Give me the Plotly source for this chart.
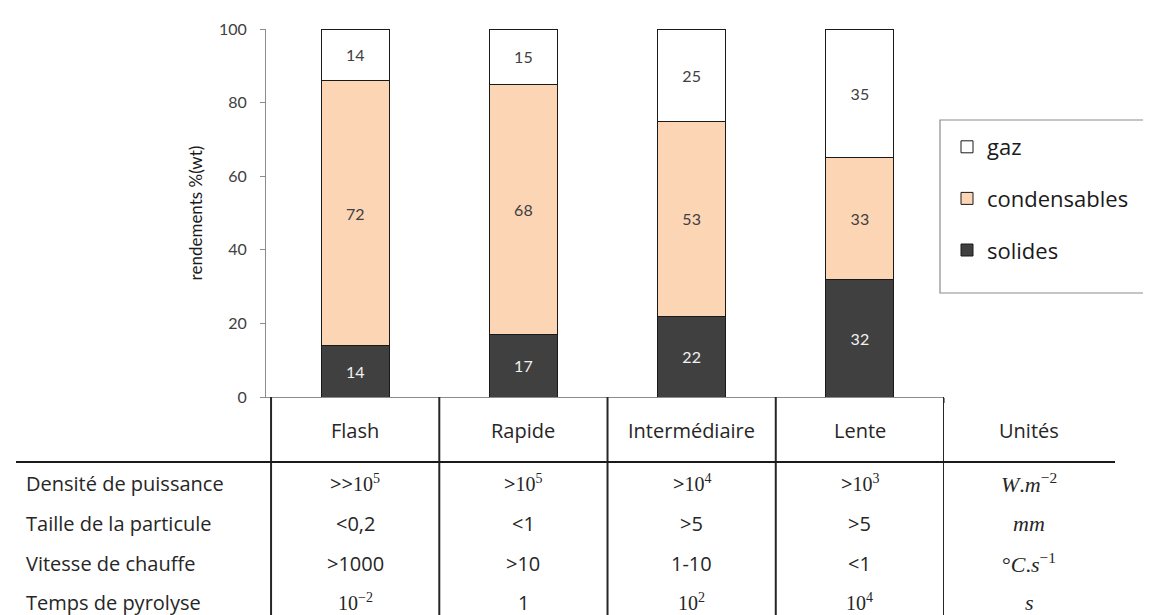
import plotly.graph_objects as go

categories = ["Flash", "Rapide", "Intermédiaire", "Lente"]
solides = [14, 17, 22, 32]
condensables = [72, 68, 53, 33]
gaz = [14, 15, 25, 35]

row_labels = ["Densité de puissance", "Taille de la particule",
              "Vitesse de chauffe", "Temps de pyrolyse"]
SERIF = "Liberation Serif"
def num(s):
    return f"<span style='font-family:{SERIF}'>{s}</span>"
densite = [">>" + num("10<sup>5</sup>"), ">" + num("10<sup>5</sup>"),
           ">" + num("10<sup>4</sup>"), ">" + num("10<sup>3</sup>")]
taille = ["<0,2", "<1", ">5", ">5"]
vitesse = [">1000", ">10", "1-10", "<1"]
temps = [num("10<sup>−2</sup>"), "1", num("10<sup>2</sup>"), num("10<sup>4</sup>")]
table_rows = [densite, taille, vitesse, temps]
units_header = "Unités"
units = ["<i>W</i>.<i>m</i><sup>−2</sup>", "<i>mm</i>",
         "°<i>C</i>.<i>s</i><sup>−1</sup>", "<i>s</i>"]

W, H = 1151, 615
L, R, T, B = 258, 936, 21, 389   # plot area in pixels
FONT = "Lato"
TFONT = "Open Sans"
TXT = "#262626"

def px(x):
    return (x - L) / (R - L)

def py(y):
    return (B - y) / (B - T)

fig = go.Figure()
series = [("solides", solides, "#404040", "#f2f2f2", 3),
          ("condensables", condensables, "#FCD5B5", "#404040", 2),
          ("gaz", gaz, "#FFFFFF", "#404040", 1)]
for name, vals, col, tcol, rank in series:
    fig.add_trace(go.Bar(
        x=categories, y=vals, name=name, legendgroup=name, legendrank=rank,
        marker=dict(color=col, line=dict(color="#1a1a1a", width=1)),
        width=0.405,
        texttemplate="%{y}", textposition="inside", insidetextanchor="middle",
        textangle=0, constraintext="none",
        textfont=dict(family=FONT, size=16, color=tcol),
        hoverinfo="skip",
    ))

fig.update_layout(
    width=W, height=H,
    margin=dict(l=L, r=W - R, t=T, b=H - B, autoexpand=False),
    paper_bgcolor="white", plot_bgcolor="white",
    barmode="stack", bargap=0.6,
    font=dict(family=FONT, color=TXT),
    showlegend=True,
    legend=dict(
        x=px(939), y=py(118), xanchor="left", yanchor="top",
        xref="paper", yref="paper",
        font=dict(family=TFONT, size=22, color="#1a1a1a"),
        traceorder="grouped", tracegroupgap=20,
        bgcolor="rgba(0,0,0,0)", borderwidth=0,
        itemclick=False, itemdoubleclick=False,
    ),
    xaxis=dict(
        range=[-0.53, 3.5], showline=True, linecolor="#8c8c8c", linewidth=1,
        ticks="outside", tickson="boundaries", ticklen=5, tickcolor="#8c8c8c",
        showticklabels=False, showgrid=False, zeroline=False, fixedrange=True,
    ),
    yaxis=dict(
        range=[0, 100], tick0=0, dtick=20, showline=True, linecolor="#8c8c8c",
        linewidth=1, ticks="outside", ticklen=5, tickcolor="#8c8c8c",
        ticklabelstandoff=10,
        tickfont=dict(family=FONT, size=16, color="#404040"),
        showgrid=False, zeroline=False, fixedrange=True,
        title=dict(text="rendements %(wt)", standoff=12,
                   font=dict(family=FONT, size=17, color="#1a1a1a")),
    ),
)

shapes = []
# legend frame
shapes.append(dict(type="rect", xref="paper", yref="paper",
                   x0=px(932), x1=px(1165), y0=py(285), y1=py(112),
                   line=dict(color="#8c8c8c", width=1.2), fillcolor="rgba(0,0,0,0)"))
# table vertical lines at category boundaries
for k in range(len(categories) + 1):
    shapes.append(dict(type="line", xref="x", yref="paper",
                       x0=k - 0.5, x1=k - 0.5, y0=py(H + 2), y1=py(B),
                       line=dict(color="#262626", width=2)))
# header separator
shapes.append(dict(type="line", xref="paper", yref="paper",
                   x0=px(8), x1=px(1107), y0=py(454), y1=py(454),
                   line=dict(color="#1a1a1a", width=2)))
fig.update_layout(shapes=shapes)

ann = []
TF = 20
header_y = 422
row_y = [475, 515, 555, 594]
units_x = 1021
for i, c in enumerate(categories):
    ann.append(dict(x=i, y=py(header_y), xref="x", yref="paper", text=c,
                    showarrow=False, xanchor="center", yanchor="middle",
                    font=dict(family=TFONT, size=TF, color=TXT)))
ann.append(dict(x=px(units_x), y=py(header_y), xref="paper", yref="paper",
                text=units_header, showarrow=False, xanchor="center",
                yanchor="middle", font=dict(family=TFONT, size=TF, color=TXT)))
for r, (lab, vals, u) in enumerate(zip(row_labels, table_rows, units)):
    yy = py(row_y[r])
    ann.append(dict(x=px(16), y=yy, xref="paper", yref="paper", text=lab,
                    showarrow=False, xanchor="left", yanchor="middle",
                    font=dict(family=TFONT, size=TF, color=TXT)))
    for i, v in enumerate(vals):
        ann.append(dict(x=i, y=yy, xref="x", yref="paper", text=v,
                        showarrow=False, xanchor="center", yanchor="middle",
                        font=dict(family=TFONT, size=TF, color=TXT)))
    ann.append(dict(x=px(units_x), y=yy, xref="paper", yref="paper", text=u,
                    showarrow=False, xanchor="center", yanchor="middle",
                    font=dict(family=SERIF, size=TF + 2, color=TXT)))
fig.update_layout(annotations=ann)

fig.write_html("out.html")
